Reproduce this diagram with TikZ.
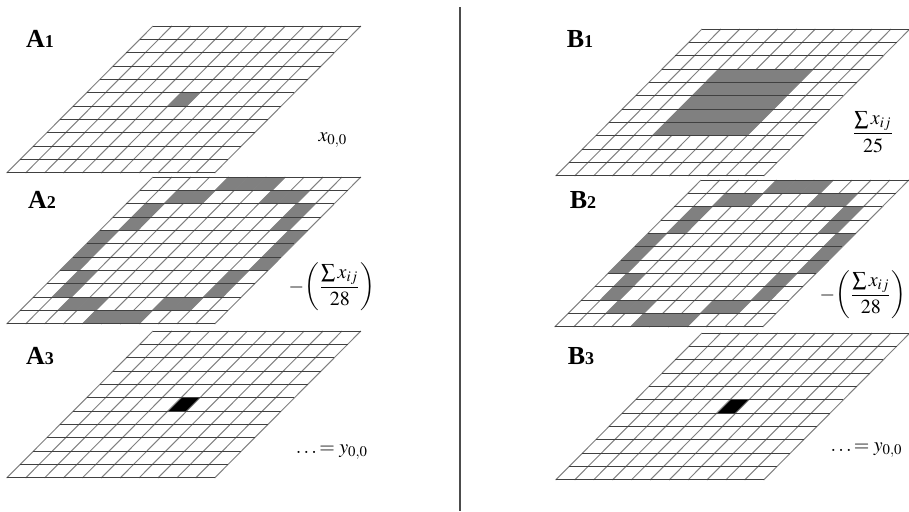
\documentclass[tikz,border=0pt]{standalone}
\usepackage{amsmath}
\usepackage{mathptmx}
\usepackage{fontspec}
\setmainfont{Liberation Serif}

\tikzset{
  sheet/.style 2 args={shift={(#1,#2)}, x={(9.45pt,0pt)}, y={(-6.65pt,-6.68pt)}},
  gridrow/.style={draw=black!75, line width=0.5pt},
  gridcol/.style={draw=black!50, line width=0.5pt},
  ringcell/.style={fill=black!50},
  hitcell/.style={fill=black},
  panel/.style={font=\fontsize{13}{15}\selectfont\bfseries, inner sep=0pt},
  formula/.style={font=\fontsize{10}{12}\selectfont, inner sep=0pt},
  divider/.style={draw=black!70, line width=1pt},
}

\begin{document}
\begin{tikzpicture}[x=0.5pt, y=-0.5pt]
    \useasboundingbox (0,0) rectangle (909,511);

    % A1: single centre cell
    \begin{scope}[sheet={153}{26}]
        \fill[ringcell] (5,5) -- ++(1,0) -- ++(0,1) -- ++(-1,0) -- cycle;
    \end{scope}
    % B1: 5x5 block
    \begin{scope}[sheet={702}{29}]
        \fill[ringcell] (3,3) -- ++(5,0) -- ++(0,5) -- ++(-5,0) -- cycle;
    \end{scope}
    % A2, B2: ring of 28 cells
    \foreach \gx/\gy in {153/177, 701/180} {
        \begin{scope}[sheet={\gx}{\gy}]
            \foreach \c/\r in {4/0,5/0,6/0,2/1,3/1,7/1,8/1,1/2,9/2,1/3,9/3,
                               0/4,10/4,0/5,10/5,0/6,10/6,1/7,9/7,1/8,9/8,
                               2/9,3/9,7/9,8/9,4/10,5/10,6/10}
                \fill[ringcell] (\c,\r) -- ++(1,0) -- ++(0,1) -- ++(-1,0) -- cycle;
        \end{scope}
    }
    % A3, B3: result cell
    \foreach \gx/\gy in {153/331, 702/333} {
        \begin{scope}[sheet={\gx}{\gy}]
            \fill[hitcell] (5,5) -- ++(1,0) -- ++(0,1) -- ++(-1,0) -- cycle;
        \end{scope}
    }

    % the grids
    \foreach \gx/\gy in {153/26, 153/177, 153/331, 702/29, 701/180, 702/333} {
        \begin{scope}[sheet={\gx}{\gy}]
            \foreach \k in {0,...,11}
                \draw[gridcol] (\k,0) -- (\k,11);
            \foreach \k in {0,...,11}
                \draw[gridrow] (0,\k) -- (11,\k);
        \end{scope}
    }

    % divider
    \coordinate (divtop) at (460,7);
    \coordinate (divbot) at (460,511);
    \draw[divider] (divtop) -- (divbot);

    % panel labels
    \node[panel] (labA1) at (40,39) {A{\fontsize{9}{10}\selectfont 1}};
    \node[panel] (labA2) at (42,200) {A{\fontsize{9}{10}\selectfont 2}};
    \node[panel] (labA3) at (40,356) {A{\fontsize{9}{10}\selectfont 3}};
    \node[panel] (labB1) at (580,39) {B{\fontsize{9}{10}\selectfont 1}};
    \node[panel] (labB2) at (583,200) {B{\fontsize{9}{10}\selectfont 2}};
    \node[panel] (labB3) at (581,356) {B{\fontsize{9}{10}\selectfont 3}};

    % formulas
    \node[formula] (fA1) at (333,140) {$x_{0,0}$};
    \node[formula] (fA2) at (332,287) {$-\!\left(\dfrac{\sum x_{ij}}{28}\right)$};
    \node[formula] (fA3) at (332,452) {$\ldots\!= y_{0,0}$};
    \node[formula] (fB1) at (873,132) {$\dfrac{\sum x_{ij}}{25}$};
    \node[formula, anchor=east] (fB2) at (907,295) {$-\!\left(\dfrac{\sum x_{ij}}{28}\right)$};
    \node[formula, anchor=east] (fB3) at (903,450) {$\ldots\!= y_{0,0}$};
\end{tikzpicture}
\end{document}
